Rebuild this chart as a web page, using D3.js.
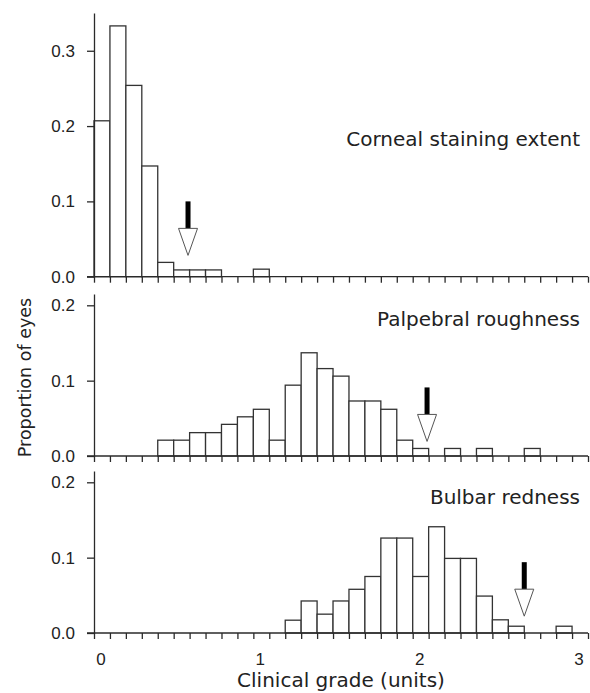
<!DOCTYPE html>
<html>
<head>
<meta charset="utf-8">
<script src="https://cdn.jsdelivr.net/npm/d3@7"></script>
<style>
  body { margin: 0; background: #fff; }
  svg { display: block; font-family: "DejaVu Sans", Verdana, sans-serif; }
  .axis path, .axis line { stroke: #2a2a2a; stroke-width: 1.3px; }
  .axis text { fill: #222; font-size: 17px; }
  .bar { fill: #fff; stroke: #333; stroke-width: 1.3px; }
  .plabel { fill: #222; font-size: 20px; text-anchor: end; }
</style>
</head>
<body>
<svg width="590" height="693"></svg>
<script>
// bin start (clinical grade units), bins are 0.1 wide
var binStart = [0.0, 0.1, 0.2, 0.3, 0.4, 0.5, 0.6, 0.7, 0.8, 0.9,
                1.0, 1.1, 1.2, 1.3, 1.4, 1.5, 1.6, 1.7, 1.8, 1.9,
                2.0, 2.1, 2.2, 2.3, 2.4, 2.5, 2.6, 2.7, 2.8, 2.9];

var corneal = [0.207, 0.333, 0.254, 0.147, 0.019, 0.009, 0.009, 0.009, 0, 0,
               0.010, 0, 0, 0, 0, 0, 0, 0, 0, 0,
               0, 0, 0, 0, 0, 0, 0, 0, 0, 0];

var palpebral = [0, 0, 0, 0, 0.021, 0.021, 0.031, 0.031, 0.042, 0.052,
                 0.062, 0.021, 0.094, 0.137, 0.116, 0.106, 0.073, 0.073, 0.062, 0.021,
                 0.010, 0, 0.010, 0, 0.010, 0, 0, 0.010, 0, 0];

var bulbar = [0, 0, 0, 0, 0, 0, 0, 0, 0, 0,
              0, 0, 0.017, 0.0425, 0.025, 0.0425, 0.058, 0.075, 0.126, 0.126,
              0.075, 0.141, 0.099, 0.099, 0.049, 0.0175, 0.009, 0, 0, 0.009];

var panelNames = ["Corneal staining extent", "Palpebral roughness", "Bulbar redness"];
var panelMax = [0.35, 0.215, 0.215];
var panelTicks = [[0, 0.1, 0.2, 0.3], [0, 0.1, 0.2], [0, 0.1, 0.2]];
// arrow: [grade, proportion at top of shaft]
var arrows = [[0.59, 0.100], [2.09, 0.091], [2.70, 0.094]];
var xTickLabels = [0, 1, 2, 3];

var series = [corneal, palpebral, bulbar];

var svg = d3.select("svg");

var x = d3.scaleLinear().domain([0, 3.1]).range([94, 588]);

// vertical placement of each panel (baseline, top)
var panelBox = [[276.7, 13.1], [456, 294], [633, 471]];
var labelY = [145.7, 325.5, 504];

series.forEach(function (vals, p) {
  var y = d3.scaleLinear().domain([0, panelMax[p]]).range(panelBox[p]);
  var g = svg.append("g");

  // bars
  g.selectAll(".bar")
    .data(binStart.map(function (b, i) { return { x0: b, v: vals[i] }; })
                  .filter(function (d) { return d.v > 0; }))
    .enter().append("rect")
    .attr("class", "bar")
    .attr("x", function (d) { return x(d.x0); })
    .attr("width", function (d) { return x(d.x0 + 0.1) - x(d.x0); })
    .attr("y", function (d) { return y(d.v); })
    .attr("height", function (d) { return y(0) - y(d.v); });

  // y axis
  g.append("g")
    .attr("class", "axis")
    .attr("transform", "translate(" + x(0) + ",0)")
    .call(d3.axisLeft(y).tickValues(panelTicks[p]).tickFormat(d3.format(".1f"))
      .tickSizeInner(7).tickSizeOuter(0).tickPadding(12));

  // x axis, minor ticks every 0.1
  var xa = g.append("g")
    .attr("class", "axis")
    .attr("transform", "translate(0," + y(0) + ")")
    .call(d3.axisBottom(x).tickValues(binStart.concat([3.0, 3.1]))
      .tickSizeInner(6).tickSizeOuter(0).tickFormat(""));
  xa.select(".domain").remove();
  xa.append("line")
    .attr("x1", x(0) - 7).attr("x2", x(3.1))
    .attr("stroke", "#2a2a2a").attr("stroke-width", 1.3);

  if (p === 2) {
    xa.selectAll(".tlab")
      .data(xTickLabels)
      .enter().append("text")
      .attr("class", "tlab")
      .attr("x", function (d) { return x(d) + 7; })
      .attr("y", 32)
      .attr("text-anchor", "middle")
      .style("font-size", "17px")
      .text(function (d) { return d; });
  }

  // panel label
  g.append("text")
    .attr("class", "plabel")
    .attr("x", 580)
    .attr("y", labelY[p])
    .text(panelNames[p]);

  // arrow marking the grade
  var a = arrows[p];
  var ax = x(a[0]), ay = y(a[1]);
  g.append("rect")
    .attr("x", ax - 2.5).attr("y", ay)
    .attr("width", 5).attr("height", 27)
    .attr("fill", "#000");
  g.append("path")
    .attr("d", "M" + (ax - 9.5) + "," + (ay + 27) + "L" + (ax + 9.5) + "," + (ay + 27) +
               "L" + ax + "," + (ay + 54) + "Z")
    .attr("fill", "#fff").attr("stroke", "#555").attr("stroke-width", 1);
});

// axis titles
svg.append("text")
  .attr("x", (x(0) + x(3.1)) / 2)
  .attr("y", 686.5)
  .attr("text-anchor", "middle")
  .style("font-size", "20px").style("fill", "#222")
  .text("Clinical grade (units)");

svg.append("text")
  .attr("transform", "translate(31,377.5) rotate(-90)")
  .attr("text-anchor", "middle")
  .style("font-size", "17.5px").style("fill", "#222")
  .text("Proportion of eyes");
</script>
</body>
</html>
